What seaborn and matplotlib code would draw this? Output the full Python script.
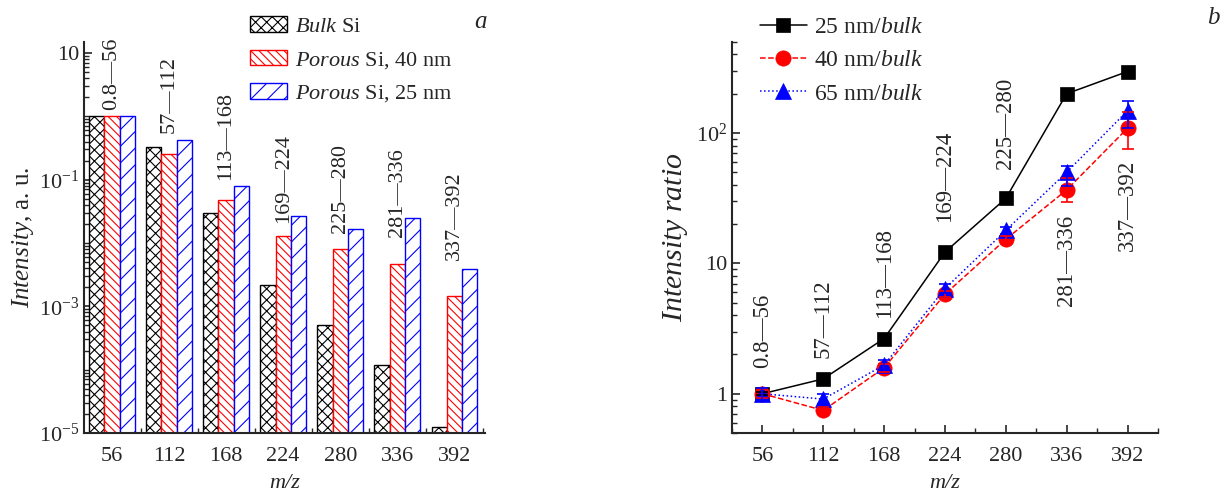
import numpy as np
import pandas as pd
import seaborn as sns
import matplotlib.pyplot as plt
from matplotlib.patches import Patch
from matplotlib.ticker import FixedLocator, FixedFormatter, LogLocator, NullFormatter, MultipleLocator

# ---- data (a): intensity of m/z groups
mz = [56, 112, 168, 224, 280, 336, 392]
ranges = ["0.8\u201456", "57\u2014112", "113\u2014168", "169\u2014224",
          "225\u2014280", "281\u2014336", "337\u2014392"]
bulk_si = [1.0, 0.33, 0.030, 0.0022, 0.00051, 0.000117, 0.0000126]
porous_40 = [1.0, 0.25, 0.048, 0.0129, 0.0080, 0.0046, 0.00145]
porous_25 = [1.0, 0.43, 0.079, 0.027, 0.0164, 0.0245, 0.0039]
label_y_a = [1.26, 0.54, 0.099, 0.021, 0.0145, 0.0123, 0.0054]

# ---- data (b): intensity ratios
ratio_25 = [1.0, 1.30, 2.65, 12.2, 31.5, 200, 296]
ratio_25_lo = [0.03, 0.04, 0.08, 0.4, 1.0, 8, 16]
ratio_25_hi = [0.03, 0.04, 0.08, 0.4, 1.0, 8, 14]
ratio_40 = [1.0, 0.745, 1.58, 5.8, 15.3, 36.6, 108.7]
ratio_40_lo = [0.08, 0.05, 0.10, 0.3, 0.8, 7.3, 34]
ratio_40_hi = [0.08, 0.05, 0.10, 0.3, 0.8, 8.4, 35]
ratio_65 = [1.0, 0.91, 1.66, 6.4, 17.9, 50, 148]
ratio_65_lo = [0.10, 0.08, 0.15, 0.5, 1.0, 10.5, 38]
ratio_65_hi = [0.10, 0.08, 0.15, 0.5, 1.0, 6, 29]
label_y_b = [1.58, 1.89, 3.84, 20.7, 52.8, 4.67, 12.4]

sns.set_style("ticks")
plt.rcParams["font.family"] = "serif"
plt.rcParams["font.serif"] = ["Liberation Serif", "DejaVu Serif"]
plt.rcParams["mathtext.fontset"] = "custom"
plt.rcParams["mathtext.rm"] = "Liberation Serif"
plt.rcParams["mathtext.it"] = "Liberation Serif:italic"
plt.rcParams["hatch.linewidth"] = 0.8
FS = 16

fig = plt.figure(figsize=(12.23, 4.97), dpi=100)
ax1 = fig.add_axes([0.0687, 0.1288, 0.328, 0.787])
ax2 = fig.add_axes([0.5985, 0.1288, 0.3483, 0.787])

# ---------------- panel a: bars ----------------
samples = ["Bulk", "P40", "P25"]
colors = ["black", "red", "blue"]
hatches = ["xxx", "\\\\\\\\", "//"]
df = pd.DataFrame({
    "mz": [str(m) for m in mz] * 3,
    "intensity": bulk_si + porous_40 + porous_25,
    "sample": np.repeat(samples, len(mz)),
})
sns.barplot(data=df, x="mz", y="intensity", hue="sample", hue_order=samples,
            palette=colors, width=0.8, ax=ax1, legend=False)
ax1.set_yscale("log")
for cont, c, h in zip(ax1.containers, colors, hatches):
    for bar in cont:
        bar.set_facecolor("white")
        bar.set_edgecolor(c)
        bar.set_hatch(h)
        bar.set_linewidth(1.0)

ax1.set_xlim(-0.49, 6.54)
ax1.set_ylim(1e-5, 15)
ax1.yaxis.set_major_locator(FixedLocator([1e-5, 1e-3, 1e-1, 10]))
ax1.yaxis.set_major_formatter(FixedFormatter([r"$10^{-5}$", r"$10^{-3}$", r"$10^{-1}$", "10"]))
ax1.yaxis.set_minor_locator(LogLocator(base=10, subs=np.arange(1, 10), numticks=20))
ax1.yaxis.set_minor_formatter(NullFormatter())
ax1.xaxis.set_minor_locator(FixedLocator(np.arange(-0.5, 7, 1)))
for i, t in enumerate(ranges):
    ax1.text(i, label_y_a[i], t, rotation=90, ha="center", va="bottom", fontsize=FS)

ax1.legend(handles=[Patch(facecolor="white", edgecolor=c, hatch=h) for c, h in zip(colors, hatches)],
           labels=[r"$\mathit{Bulk}$ Si", r"$\mathit{Porous}$ Si, 40 nm", r"$\mathit{Porous}$ Si, 25 nm"],
           loc="upper left", bbox_to_anchor=(0.415, 1.065), frameon=False, fontsize=FS,
           borderpad=0, borderaxespad=0, handlelength=1.65, handletextpad=0.35, labelspacing=0.57)
ax1.set_ylabel(r"$\mathit{Intensity}$, a. u.", fontsize=18, labelpad=2)

# ---------------- panel b: ratios ----------------
series = [
    (ratio_25, ratio_25_lo, ratio_25_hi, "black", "s", "-", 10, r"25 nm/$\mathit{bulk}$"),
    (ratio_40, ratio_40_lo, ratio_40_hi, "red", "o", "--", 11, r"40 nm/$\mathit{bulk}$"),
    (ratio_65, ratio_65_lo, ratio_65_hi, "blue", "^", ":", 11, r"65 nm/$\mathit{bulk}$"),
]
for vals, lo, hi, c, m, ls, ms, lab in series:
    sns.lineplot(x=mz, y=vals, ax=ax2, color=c, marker=m, linestyle=ls, linewidth=1.1,
                 markersize=ms, markeredgecolor=c, markeredgewidth=0.5, label=lab)
    ax2.errorbar(mz, vals, yerr=[lo, hi], fmt="none", ecolor=c, elinewidth=1.2,
                 capsize=4, capthick=1.2, zorder=5)

ax2.set_yscale("log")
ax2.set_xlim(28, 420)
ax2.set_ylim(0.5, 500)
ax2.xaxis.set_major_locator(FixedLocator(mz))
ax2.xaxis.set_minor_locator(MultipleLocator(28))
ax2.yaxis.set_major_locator(FixedLocator([1, 10, 100]))
ax2.yaxis.set_major_formatter(FixedFormatter(["1", "10", r"$10^{2}$"]))
ax2.yaxis.set_minor_locator(LogLocator(base=10, subs=np.arange(2, 10), numticks=20))
ax2.yaxis.set_minor_formatter(NullFormatter())
for x, t, y in zip(mz, ranges, label_y_b):
    ax2.text(x, y, t, rotation=90, ha="center", va="bottom", fontsize=16.5)

ax2.legend(loc="upper left", bbox_to_anchor=(0.065, 1.065), frameon=False, fontsize=17,
           borderpad=0, borderaxespad=0, handlelength=2.0, handletextpad=0.3, labelspacing=0.5)
ax2.set_ylabel(r"$\mathit{Intensity\ ratio}$", fontsize=21.5, labelpad=4)

for ax in (ax1, ax2):
    sns.despine(ax=ax)
    ax.spines["left"].set_linewidth(1.5)
    ax.spines["bottom"].set_linewidth(1.5)
    ax.tick_params(which="major", direction="in", length=6, width=1.2, labelsize=FS)
    ax.tick_params(which="minor", direction="in", length=3.5, width=1.0)
    ax.tick_params(axis="x", which="major", pad=10)
    ax.set_xlabel("m/z", fontsize=FS, fontstyle="italic", labelpad=6)

fig.text(0.3925, 0.955, "a", fontsize=FS + 2, fontstyle="italic", ha="center", va="center")
fig.text(0.992, 0.963, "b", fontsize=FS + 2, fontstyle="italic", ha="center", va="center")

fig.savefig("out.png", dpi=100)
